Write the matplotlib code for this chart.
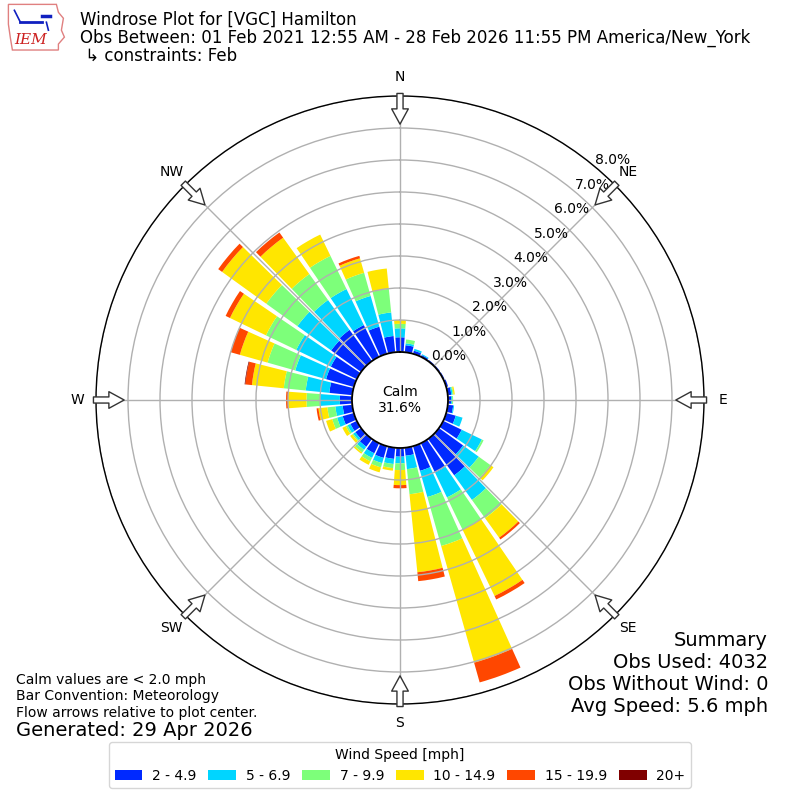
import numpy as np
import matplotlib
matplotlib.use("Agg")
import matplotlib.pyplot as plt
from matplotlib.patches import Patch, Polygon

# ---- data (percent of observations), directions 0..350 every 10 deg ----
directions = list(range(0, 360, 10))
bin_labels = ["2 - 4.9", "5 - 6.9", "7 - 9.9", "10 - 14.9", "15 - 19.9", "20+"]

spd_2_5 = [0.46, 0.22, 0.10, 0.06, 0.04, 0.04, 0.04, 0.06, 0.11, 0.10, 0.17, 0.31,
           0.64, 0.93, 1.40, 1.02, 0.80, 0.25, 0.27, 0.35, 0.38, 0.35, 0.30, 0.22,
           0.22, 0.36, 0.30, 0.38, 0.72, 0.90, 0.90, 1.15, 1.20, 1.10, 0.88, 0.51]
spd_5_7 = [0.28, 0.06, 0.06, 0.03, 0.00, 0.00, 0.00, 0.00, 0.04, 0.03, 0.03, 0.22,
           0.70, 0.60, 0.95, 0.86, 0.85, 0.42, 0.21, 0.16, 0.17, 0.16, 0.12, 0.08,
           0.10, 0.18, 0.23, 0.62, 0.74, 1.00, 1.20, 1.30, 1.15, 1.25, 1.00, 0.74]
spd_7_10 = [0.14, 0.12, 0.00, 0.00, 0.00, 0.00, 0.00, 0.00, 0.03, 0.03, 0.00, 0.00,
            0.06, 0.45, 0.70, 1.12, 1.59, 0.79, 0.21, 0.13, 0.14, 0.12, 0.10, 0.04,
            0.06, 0.16, 0.25, 0.42, 0.69, 0.90, 1.05, 1.20, 1.00, 1.15, 0.75, 0.74]
spd_10_15 = [0.12, 0.00, 0.00, 0.00, 0.00, 0.00, 0.00, 0.00, 0.04, 0.00, 0.00, 0.00,
             0.00, 0.12, 0.75, 2.30, 3.79, 2.45, 0.47, 0.08, 0.16, 0.12, 0.05, 0.08,
             0.12, 0.20, 0.28, 0.58, 1.00, 0.90, 1.25, 1.70, 1.40, 0.74, 0.47, 0.64]
spd_15_20 = [0.00, 0.00, 0.00, 0.00, 0.00, 0.00, 0.00, 0.00, 0.00, 0.00, 0.00, 0.00,
             0.00, 0.00, 0.07, 0.12, 0.64, 0.28, 0.10, 0.00, 0.00, 0.00, 0.00, 0.00,
             0.00, 0.00, 0.06, 0.06, 0.21, 0.30, 0.15, 0.15, 0.20, 0.00, 0.08, 0.00]
spd_20p = [0.00, 0.00, 0.00, 0.00, 0.00, 0.00, 0.00, 0.00, 0.00, 0.00, 0.00, 0.00,
           0.00, 0.00, 0.00, 0.00, 0.00, 0.00, 0.00, 0.00, 0.00, 0.00, 0.00, 0.00,
           0.00, 0.00, 0.00, 0.00, 0.02, 0.00, 0.00, 0.00, 0.00, 0.00, 0.00, 0.00]

ring_values = [0, 1, 2, 3, 4, 5, 6, 7, 8]
compass = ["N", "NE", "E", "SE", "S", "SW", "W", "NW"]
calm_pct = 31.6

series = [spd_2_5, spd_5_7, spd_7_10, spd_10_15, spd_15_20, spd_20p]
colors = plt.cm.jet(np.linspace(0, 1, 7)[1:])

fig = plt.figure(figsize=(8, 8), dpi=100)
ax = fig.add_axes([0.12, 0.12, 0.76, 0.76], projection="polar")
ax.set_theta_zero_location("N")
ax.set_theta_direction(-1)

theta = np.deg2rad(directions)
width = np.deg2rad(8.5)
bottom = np.zeros(len(directions))
for vals, col in zip(series, colors):
    v = np.array(vals)
    ax.bar(theta, v, width=width, bottom=bottom, color=col, edgecolor="none", zorder=1)
    bottom = bottom + v

ax.set_ylim(0, 8)
ax.set_rorigin(-1.5)
ax.set_yticks(ring_values)
ax.set_yticklabels([])
ax.set_xticks(np.deg2rad(np.arange(0, 360, 45)))
ax.set_xticklabels(compass, fontsize=10)
ax.tick_params(axis="x", pad=3)
ax.grid(True, color="#b0b0b0", lw=1)
ax.spines["polar"].set_linewidth(1.0)
ax.spines["inner"].set_linewidth(1.3)

for r in ring_values:
    ax.text(np.deg2rad(40), r, f"{r:.1f}%", ha="left", va="bottom", fontsize=10, zorder=5)

ax.text(0.5, 0.5, f"Calm\n{calm_pct:.1f}%", transform=ax.transAxes,
        ha="center", va="center", fontsize=10)

for ang in np.arange(0, 360, 45):
    t = np.deg2rad(ang)
    ax.annotate("", xy=(t, 7.12), xytext=(t, 8.08),
                arrowprops=dict(arrowstyle="simple,head_length=0.55,head_width=0.6,tail_width=0.22",
                                fc="white", ec="#333333", lw=1, shrinkA=0, shrinkB=0,
                                mutation_scale=20),
                annotation_clip=False, zorder=6)

# ---- text ----
fig.text(80 / 800, 1 - 25 / 800, "Windrose Plot for [VGC] Hamilton", fontsize=12, va="baseline")
fig.text(80 / 800, 1 - 43 / 800,
         "Obs Between: 01 Feb 2021 12:55 AM - 28 Feb 2026 11:55 PM America/New_York",
         fontsize=12, va="baseline")
fig.text(80 / 800, 1 - 61 / 800, " \u21b3 constraints: Feb", fontsize=12, va="baseline")

fig.text(16 / 800, 1 - 684 / 800, "Calm values are < 2.0 mph", fontsize=10, va="baseline")
fig.text(16 / 800, 1 - 700 / 800, "Bar Convention: Meteorology", fontsize=10, va="baseline")
fig.text(16 / 800, 1 - 717 / 800, "Flow arrows relative to plot center.", fontsize=10, va="baseline")
fig.text(16 / 800, 1 - 736 / 800, "Generated: 29 Apr 2026", fontsize=14, va="baseline")

summary = ["Summary", "Obs Used: 4032", "Obs Without Wind: 0", "Avg Speed: 5.6 mph"]
for i, s in enumerate(summary):
    fig.text(768 / 800, 1 - (646 + 22 * i) / 800, s, fontsize=14, ha="right", va="baseline")

handles = [Patch(facecolor=c, edgecolor="none") for c in colors]
fig.legend(handles, bin_labels, loc="lower center", bbox_to_anchor=(0.5, 0.006), ncol=6,
           title="Wind Speed [mph]", fontsize=10, title_fontsize=10, frameon=True,
           columnspacing=0.85, handletextpad=0.7, handlelength=2.0)

# ---- logo ----
lax = fig.add_axes([0.008, 0.935, 0.075, 0.062])
lax.set_xlim(0, 60)
lax.set_ylim(0, 50)
lax.axis("off")
outline = [(2, 48), (50, 48), (52, 40), (57, 34), (55, 22), (58, 15), (52, 8), (52, 2),
           (6, 2), (4, 14), (2, 28)]
lax.add_patch(Polygon(outline, closed=True, fill=False, ec="#e08080", lw=1))
lax.plot([14, 36], [30, 30], color="#1020c0", lw=2)
lax.plot([8, 14], [42, 30], color="#1020c0", lw=1.2)
lax.plot([36, 44], [36, 36], color="#1020c0", lw=2.5)
lax.plot([40, 42], [30, 22], color="#1020c0", lw=1.2)
lax.text(8, 8, "IEM", color="#cc2020", fontsize=11, family="DejaVu Serif", style="italic")

fig.savefig("out.png", dpi=100)
